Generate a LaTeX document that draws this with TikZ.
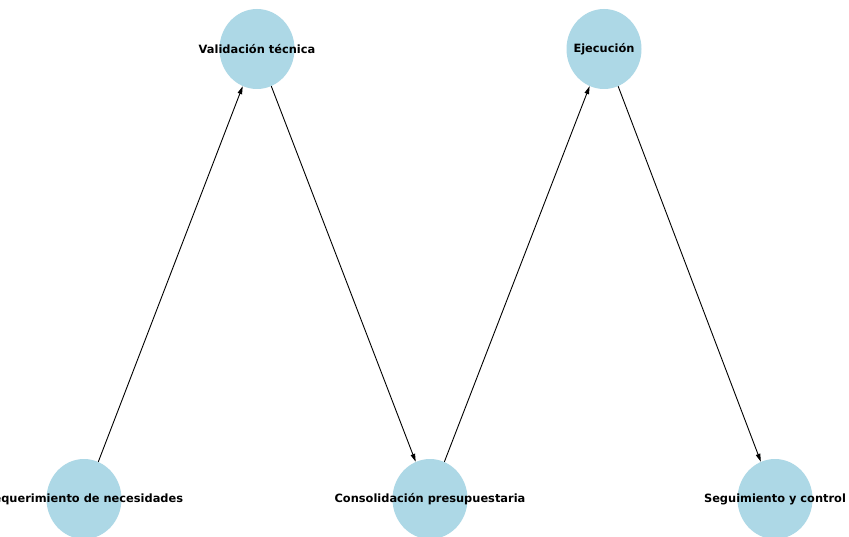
\documentclass[tikz,border=0pt]{standalone}
\usepackage{fontspec}
\setmainfont{DejaVu Sans}
\usetikzlibrary{arrows.meta,shapes.geometric}

\definecolor{nodeblue}{HTML}{ADD8E6}

\begin{document}
\begin{tikzpicture}[x=1pt, y=-1pt,
  etapa/.style={ellipse, fill=nodeblue, minimum width=75pt, minimum height=80pt, inner sep=0pt},
  rotulo/.style={font=\fontsize{11.4}{13}\selectfont\bfseries, text=black},
  flujo/.style={-{Triangle[length=8pt,width=4.5pt]}, line width=0.9pt, black}]

\clip (0,0) rectangle (849,537);
\fill[white] (0,0) rectangle (849,537);

\node[etapa] (req)  at (84, 499)  {};
\node[etapa] (val)  at (257, 49)  {};
\node[etapa] (cons) at (430, 499) {};
\node[etapa] (eje)  at (604, 49)  {};
\node[etapa] (seg)  at (775, 499) {};

% -------- Edges -----------
\draw[flujo] (req)  -- (val);
\draw[flujo] (val)  -- (cons);
\draw[flujo] (cons) -- (eje);
\draw[flujo] (eje)  -- (seg);

% -------- Labels -----------
\node[rotulo] at (req)  {Requerimiento de necesidades};
\node[rotulo] at (val)  {Validación técnica};
\node[rotulo] at (cons) {Consolidación presupuestaria};
\node[rotulo] at (eje)  {Ejecución};
\node[rotulo] at (seg)  {Seguimiento y control};
\end{tikzpicture}
\end{document}
